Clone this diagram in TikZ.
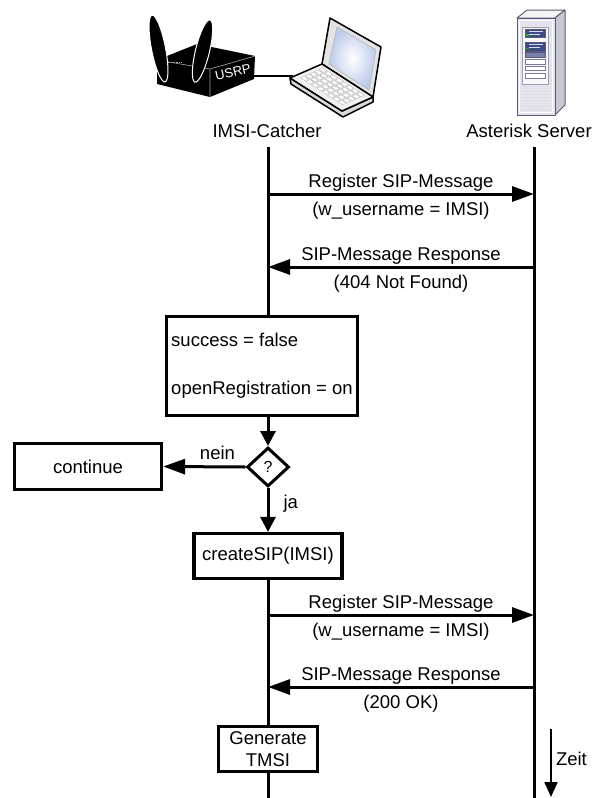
\documentclass[tikz,border=0pt]{standalone}
\usepackage{fontspec}
\setmainfont{Liberation Sans}
\usetikzlibrary{arrows.meta,shapes.geometric}
\definecolor{srvline}{HTML}{5A5A78}
\definecolor{srvfront}{HTML}{E4E4EE}
\definecolor{srvside}{HTML}{C9C9D3}
\definecolor{srvslot}{HTML}{3C4A88}
\definecolor{screenblue}{HTML}{BCCBEA}
\begin{document}
\begin{tikzpicture}[x=1pt,y=-1pt,
  font=\fontsize{18.5}{22}\selectfont,
  life/.style={line width=3pt},
  msg/.style={line width=3pt,-{Triangle[length=22pt,width=15pt]}},
  flow/.style={line width=3pt,-{Triangle[length=15pt,width=15pt]}},
  procbox/.style={draw,line width=3.2pt,fill=white,inner sep=0pt,align=center},
  uptext/.style={midway,anchor=base,inner sep=0pt,yshift=6.5pt},
  downtext/.style={midway,anchor=base,inner sep=0pt,yshift=-21.5pt},
]
\useasboundingbox (0,0) rectangle (596,798);

% ---------- USRP radio ----------
\fill[black] (157,60) -- (197,44) -- (255,56) -- (254,79) -- (210,97) -- (157,84) -- cycle;
\draw[gray!70,line width=0.6pt] (157,60) -- (210,69) -- (255,56) (210,69) -- (210,97);
\draw[gray!70,line width=0.6pt,densely dotted] (163,62) -- (182,62);
\begin{scope}[shift={(158.5,48.5)},rotate=-79]
  \filldraw[fill=black,draw=white,line width=1pt] (0,0) ellipse [x radius=34pt,y radius=7pt];
\end{scope}
\begin{scope}[shift={(202.5,51)},rotate=-103.6]
  \filldraw[fill=black,draw=white,line width=1pt] (0,0) ellipse [x radius=32pt,y radius=7pt];
\end{scope}
\node[white,font=\fontsize{13}{14}\selectfont,rotate=13,inner sep=0pt] (usrp) at (233,72) {USRP};

% cable to the laptop
\draw[line width=2pt] (254,76) -- (293,76);

% ---------- laptop ----------
\filldraw[fill=gray!22,draw=black,line width=1.5pt,line join=round] (330,18) -- (381,47) -- (373,97) -- (322,64) -- cycle;
\shade[inner color=white,outer color=screenblue] (337,27) -- (376,50) -- (369,90) -- (329,64) -- cycle;
\draw[gray!60,line width=0.5pt] (337,27) -- (376,50) -- (369,90) -- (329,64) -- cycle;
\filldraw[fill=gray!30,draw=black,line width=1.5pt,line join=round] (290,78) -- (342,111) -- (373,97) -- (373,102) -- (343,117) -- (291,84) -- cycle;
\filldraw[fill=gray!12,draw=black,line width=1.5pt,line join=round] (322,64) -- (373,97) -- (342,111) -- (290,78) -- cycle;
\begin{scope}[shift={(322,64)},x={(51pt,-33pt)},y={(-32pt,-14pt)}]
  \foreach \i in {0,...,7}
    \foreach \j in {0,...,4}
      \filldraw[fill=white,draw=gray!55,line width=0.4pt]
        ({0.08+\i*0.105},{0.1+\j*0.145}) -- ++(0.085,0) -- ++(0,0.115) -- ++(-0.085,0) -- cycle;
\end{scope}

% ---------- server tower ----------
\filldraw[fill=gray!8,draw=srvline,line width=1pt,line join=round] (517,18) -- (527,10) -- (565,10) -- (555,18) -- cycle;
\filldraw[fill=srvside,draw=srvline,line width=1pt,line join=round] (555,18) -- (565,10) -- (565,105) -- (555,115) -- cycle;
\filldraw[fill=srvfront,draw=srvline,line width=1pt] (517,18) rectangle (555,115);
\draw[white,line width=0.8pt] (519.5,20.5) rectangle (552.5,112.5);
\filldraw[fill=gray!5,draw=srvline!60,line width=0.6pt] (522,27) rectangle (548,84);
\foreach \ya/\yb in {29/37.5,42/51} {
  \filldraw[fill=srvslot,draw=srvline,line width=0.4pt] (525,\ya) rectangle (545,\yb);
  \draw[white!80!srvslot,line width=0.6pt] (529,\ya+2.5) -- (543,\ya+2.5) (529,\ya+5.5) -- (540,\ya+5.5);
  \fill[green!80!black] (526,\yb-3.5) rectangle (528.5,\yb-1.8);
}
\filldraw[fill=srvslot!70,draw=srvline,line width=0.4pt] (525,52.5) rectangle (545,57.5);
\foreach \ya/\yb in {59/64,66/70.5,73/78}
  \filldraw[fill=white,draw=srvline!80,line width=0.6pt] (525,\ya) rectangle (545,\yb);
\foreach \yv in {88,91,...,109}
  \draw[gray!25,line width=0.4pt] (522,\yv) -- (550,\yv);

% ---------- actors ----------
\node[anchor=base] (cat) at (267,137) {IMSI-Catcher};
\node[anchor=base] (srv) at (529,137) {Asterisk Server};
\coordinate (lt) at (268,147);
\coordinate (rt) at (534,147);
\coordinate (lb) at (268,798);
\coordinate (rb) at (534,798);

% server lifeline
\draw[life] (rt) -- (rb);

% ---------- first registration ----------
\coordinate (m1a) at (268,194); \coordinate (m1b) at (534,194);
\coordinate (m2a) at (268,267); \coordinate (m2b) at (534,267);
\draw[msg] (m1a) -- (m1b)
  node[uptext] {Register SIP-Message}
  node[downtext] {(w\_username = IMSI)};
\draw[msg] (m2b) -- (m2a)
  node[uptext] {SIP-Message Response}
  node[downtext] {(404 Not Found)};

% ---------- local decision ----------
\node[procbox,minimum width=191pt,minimum height=99pt,align=left] (init) at (262,366)
  {success = false\\[26pt]openRegistration = on};
\node[draw,diamond,line width=3pt,fill=white,inner sep=0pt,minimum width=42pt,minimum height=39pt,
  font=\fontsize{16}{18}\selectfont] (dec) at (268,467) {?};
\node[procbox,minimum width=147pt,minimum height=46pt] (cont) at (88,466.5) {continue};
\node[procbox,minimum width=148pt,minimum height=45pt] (sip) at (268,556) {createSIP(IMSI)};
\node[procbox,minimum width=99pt,minimum height=45pt] (gen) at (268,749) {Generate\\TMSI};

\draw[life] (lt) -- (lt |- init.north);
\draw[flow] (init.south -| dec.north) -- (dec.north);
\draw[msg] (dec.west) -- (cont.east)
  node[pos=0.34,anchor=base,inner sep=0pt,yshift=7pt] {nein};
\draw[flow] (dec.south) -- (sip.north)
  node[pos=0.47,anchor=base west,inner sep=0pt,xshift=14pt] {ja};
\draw[life] (sip.south) -- (gen.north);
\draw[life] (gen.south) -- (lb);

% ---------- second registration ----------
\coordinate (m3a) at (268,615); \coordinate (m3b) at (534,615);
\coordinate (m4a) at (268,687); \coordinate (m4b) at (534,687);
\draw[msg] (m3a) -- (m3b)
  node[uptext] {Register SIP-Message}
  node[downtext] {(w\_username = IMSI)};
\draw[msg] (m4b) -- (m4a)
  node[uptext] {SIP-Message Response}
  node[downtext] {(200 OK)};

% ---------- time axis ----------
\coordinate (z1) at (551,729);
\coordinate (z2) at (551,797);
\draw[line width=2pt,-{Triangle[length=15pt,width=13pt]}] (z1) -- (z2)
  node[midway,anchor=base west,inner sep=0pt,xshift=4pt,yshift=-2pt] {Zeit};
\end{tikzpicture}
\end{document}
